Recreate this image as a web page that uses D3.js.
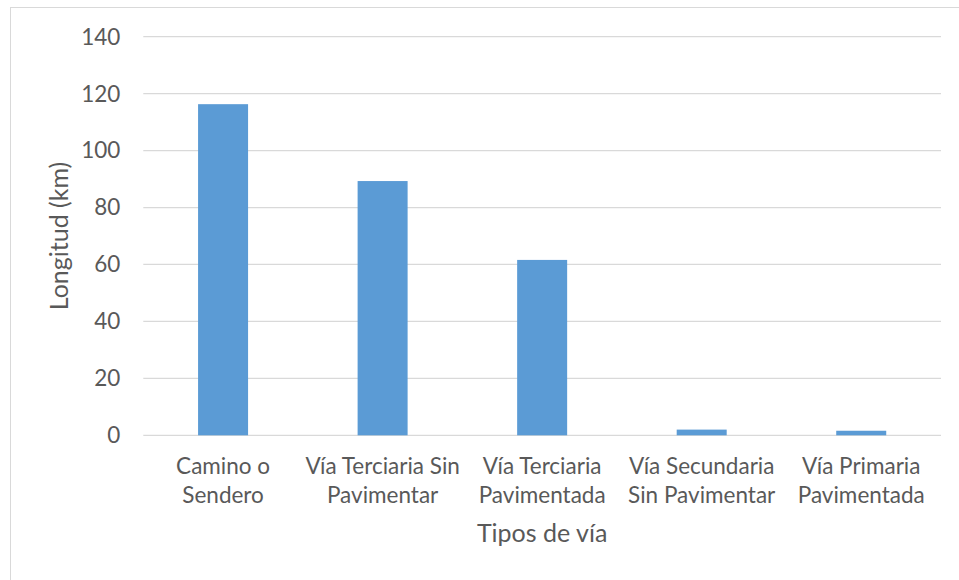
<!DOCTYPE html>
<meta charset="utf-8">
<script src="https://d3js.org/d3.v7.min.js"></script>
<style>
  body { margin: 0; background: #fff; }
  text { font-family: Lato, "Open Sans", sans-serif; fill: #595959; }
</style>
<div id="chart"></div>
<script>
// data
var categories = [
  ["Camino o", "Sendero"],
  ["Vía Terciaria Sin", "Pavimentar"],
  ["Vía Terciaria", "Pavimentada"],
  ["Vía Secundaria", "Sin Pavimentar"],
  ["Vía Primaria", "Pavimentada"]
];
var longitudes = [116.3, 89.3, 61.6, 2.0, 1.6];
var yTicks = [0, 20, 40, 60, 80, 100, 120, 140];

var W = 959, H = 580;
var margin = {top: 36.7, right: 18, bottom: 144.7, left: 143.3};
var width = W - margin.left - margin.right,
    height = H - margin.top - margin.bottom;

var svg = d3.select("#chart").append("svg")
    .attr("width", W).attr("height", H);

// outer chart border
svg.append("rect")
  .attr("x", 10.5).attr("y", 7.5)
  .attr("width", 960).attr("height", 600)
  .attr("fill", "none").attr("stroke", "#d9d9d9");

var g = svg.append("g")
  .attr("transform", "translate(" + margin.left + "," + margin.top + ")");

var keys = categories.map(function(d, i) { return i; });
var x = d3.scaleBand().domain(keys).range([0, width]).paddingInner(0).paddingOuter(0);
var y = d3.scaleLinear().domain([0, 140]).range([height, 0]);

// gridlines
g.selectAll(".grid").data(yTicks).enter().append("line")
  .attr("x1", 0).attr("x2", width)
  .attr("y1", function(d) { return y(d); })
  .attr("y2", function(d) { return y(d); })
  .attr("stroke", "#d9d9d9").attr("stroke-width", 1.3);

// y tick labels
g.selectAll(".ytick").data(yTicks).enter().append("text")
  .attr("x", -23).attr("y", function(d) { return y(d); })
  .attr("dy", "0.35em")
  .attr("text-anchor", "end")
  .style("font-size", "22.5px")
  .text(function(d) { return d; });

// bars
var barW = 50;
g.selectAll(".bar").data(longitudes).enter().append("rect")
  .attr("x", function(d, i) { return x(i) + x.bandwidth() / 2 - barW / 2; })
  .attr("width", barW)
  .attr("y", function(d) { return y(d); })
  .attr("height", function(d) { return height - y(d); })
  .attr("fill", "#5b9bd5");

// category labels
var cat = g.selectAll(".cat").data(categories).enter().append("text")
  .attr("text-anchor", "middle")
  .style("font-size", "22.5px")
  .attr("transform", function(d, i) {
    return "translate(" + (x(i) + x.bandwidth() / 2) + "," + (height + 39) + ")";
  });
cat.selectAll("tspan").data(function(d) { return d; }).enter().append("tspan")
  .attr("x", 0)
  .attr("y", function(d, i) { return i * 28.3; })
  .text(function(d) { return d; });

// axis titles
svg.append("text")
  .attr("text-anchor", "middle")
  .attr("transform", "translate(" + 68 + "," + (margin.top + height / 2) + ") rotate(-90)")
  .style("font-size", "25px")
  .text("Longitud (km)");

svg.append("text")
  .attr("x", margin.left + width / 2).attr("y", 542)
  .attr("text-anchor", "middle")
  .style("font-size", "25px")
  .text("Tipos de vía");
</script>
